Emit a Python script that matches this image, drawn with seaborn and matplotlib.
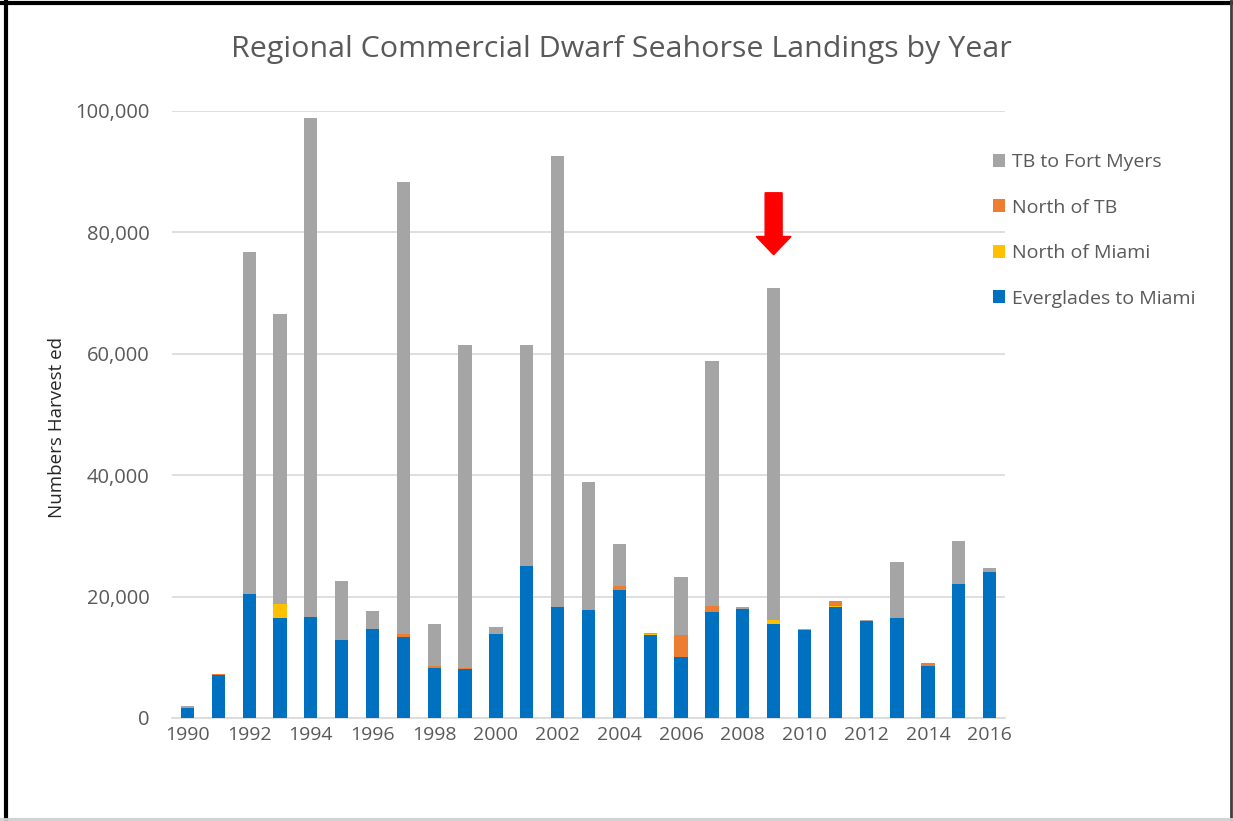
import matplotlib
matplotlib.use("Agg")
import matplotlib.pyplot as plt
from matplotlib.patches import Patch
from matplotlib.lines import Line2D
import numpy as np
import pandas as pd
import seaborn as sns

# Data
years = list(range(1990, 2017))
everglades_miami = [1600, 7100, 20500, 16500, 16600, 12900, 14600, 13400, 8300, 8000,
                    13900, 25100, 18200, 17800, 21000, 13600, 10100, 17400, 18000, 15500,
                    14500, 18200, 15900, 16400, 8600, 22100, 24100]
north_miami = [0, 0, 0, 2300, 0, 0, 0, 0, 0, 0,
               0, 0, 0, 0, 0, 200, 0, 0, 0, 700,
               0, 200, 0, 0, 0, 0, 0]
north_tb = [0, 200, 0, 0, 0, 0, 0, 500, 200, 200,
            0, 0, 0, 0, 700, 0, 3500, 1100, 0, 0,
            0, 800, 0, 0, 500, 0, 0]
tb_fort_myers = [400, 0, 56200, 47800, 82200, 9600, 3100, 74400, 7000, 53300,
                 1100, 36400, 74400, 21000, 7000, 200, 9600, 40300, 300, 54600,
                 200, 0, 300, 9300, 0, 7000, 600]

series_names = ["TB to Fort Myers", "North of TB", "North of Miami", "Everglades to Miami"]
colors = {"Everglades to Miami": "#0070C0", "North of Miami": "#FFC000",
          "North of TB": "#ED7D31", "TB to Fort Myers": "#A5A5A5"}

df = pd.DataFrame({"year": [str(y) for y in years],
                   "Everglades to Miami": everglades_miami,
                   "North of Miami": north_miami,
                   "North of TB": north_tb,
                   "TB to Fort Myers": tb_fort_myers})
# cumulative tops, drawn from the back to the front
df["c1"] = df["Everglades to Miami"]
df["c2"] = df["c1"] + df["North of Miami"]
df["c3"] = df["c2"] + df["North of TB"]
df["c4"] = df["c3"] + df["TB to Fort Myers"]

text_col = "#595959"
plt.rcParams["font.family"] = ["Open Sans", "DejaVu Sans"]

fig = plt.figure(figsize=(12.33, 8.21), dpi=100)
ax = fig.add_axes([0.1395, 0.1255, 0.6756, 0.7395])

for col, name in [("c4", "TB to Fort Myers"), ("c3", "North of TB"),
                  ("c2", "North of Miami"), ("c1", "Everglades to Miami")]:
    sns.barplot(data=df, x="year", y=col, color=colors[name], width=0.43,
                saturation=1, ax=ax, zorder=3)

ax.set_ylim(0, 100000)
ax.set_xlim(-0.5, len(years) - 0.5)
ax.set_yticks(range(0, 100001, 20000))
ax.set_yticklabels([f"{v:,}" for v in range(0, 100001, 20000)])
ax.set_xticks(range(len(years)))
ax.set_xticklabels([str(y) if (y % 2 == 0) else "" for y in years])
ax.tick_params(axis="y", length=0, labelsize=14.5, labelcolor=text_col, pad=16)
ax.tick_params(axis="x", length=0, labelsize=14, labelcolor=text_col, pad=6)
ax.yaxis.grid(True, color="#D9D9D9", linewidth=1.2, zorder=0)
ax.set_axisbelow(True)
for s in ["top", "right", "left"]:
    ax.spines[s].set_visible(False)
ax.spines["bottom"].set_color("#D9D9D9")
ax.spines["bottom"].set_linewidth(1.2)
ax.set_xlabel("")
ax.set_ylabel("Numbers Harvest ed", fontsize=13.5, color="#262626")
ax.yaxis.set_label_coords(-0.127, 0.478)

fig.text(0.504, 0.94, "Regional Commercial Dwarf Seahorse Landings by Year",
         ha="center", va="center", fontsize=21.9, color=text_col)

handles = [Patch(facecolor=colors[n], edgecolor="none") for n in series_names]
leg = fig.legend(handles, series_names, loc="upper left", bbox_to_anchor=(0.791, 0.835),
                 frameon=False, fontsize=14, handlelength=0.65, handleheight=0.65,
                 handletextpad=0.35, labelspacing=1.42)
for t in leg.get_texts():
    t.set_color(text_col)

# red arrow above 2009
i2009 = years.index(2009)
ax.arrow(i2009, 86500, 0, -10200, width=0.55, head_width=1.13, head_length=3000,
         length_includes_head=True, color="#FF0000", zorder=5)

# outer frame of the screenshot
fig.add_artist(Line2D([0.0052, 0.0052], [0, 1], transform=fig.transFigure, color="black", linewidth=3))
fig.add_artist(Line2D([0, 1], [0.9965, 0.9965], transform=fig.transFigure, color="black", linewidth=3))
fig.add_artist(Line2D([0.998, 0.998], [0, 1], transform=fig.transFigure, color="#404040", linewidth=2))
fig.add_artist(Line2D([0, 1], [0.0025, 0.0025], transform=fig.transFigure, color="#D0D0D0", linewidth=2))

fig.savefig("out.png", dpi=100)
